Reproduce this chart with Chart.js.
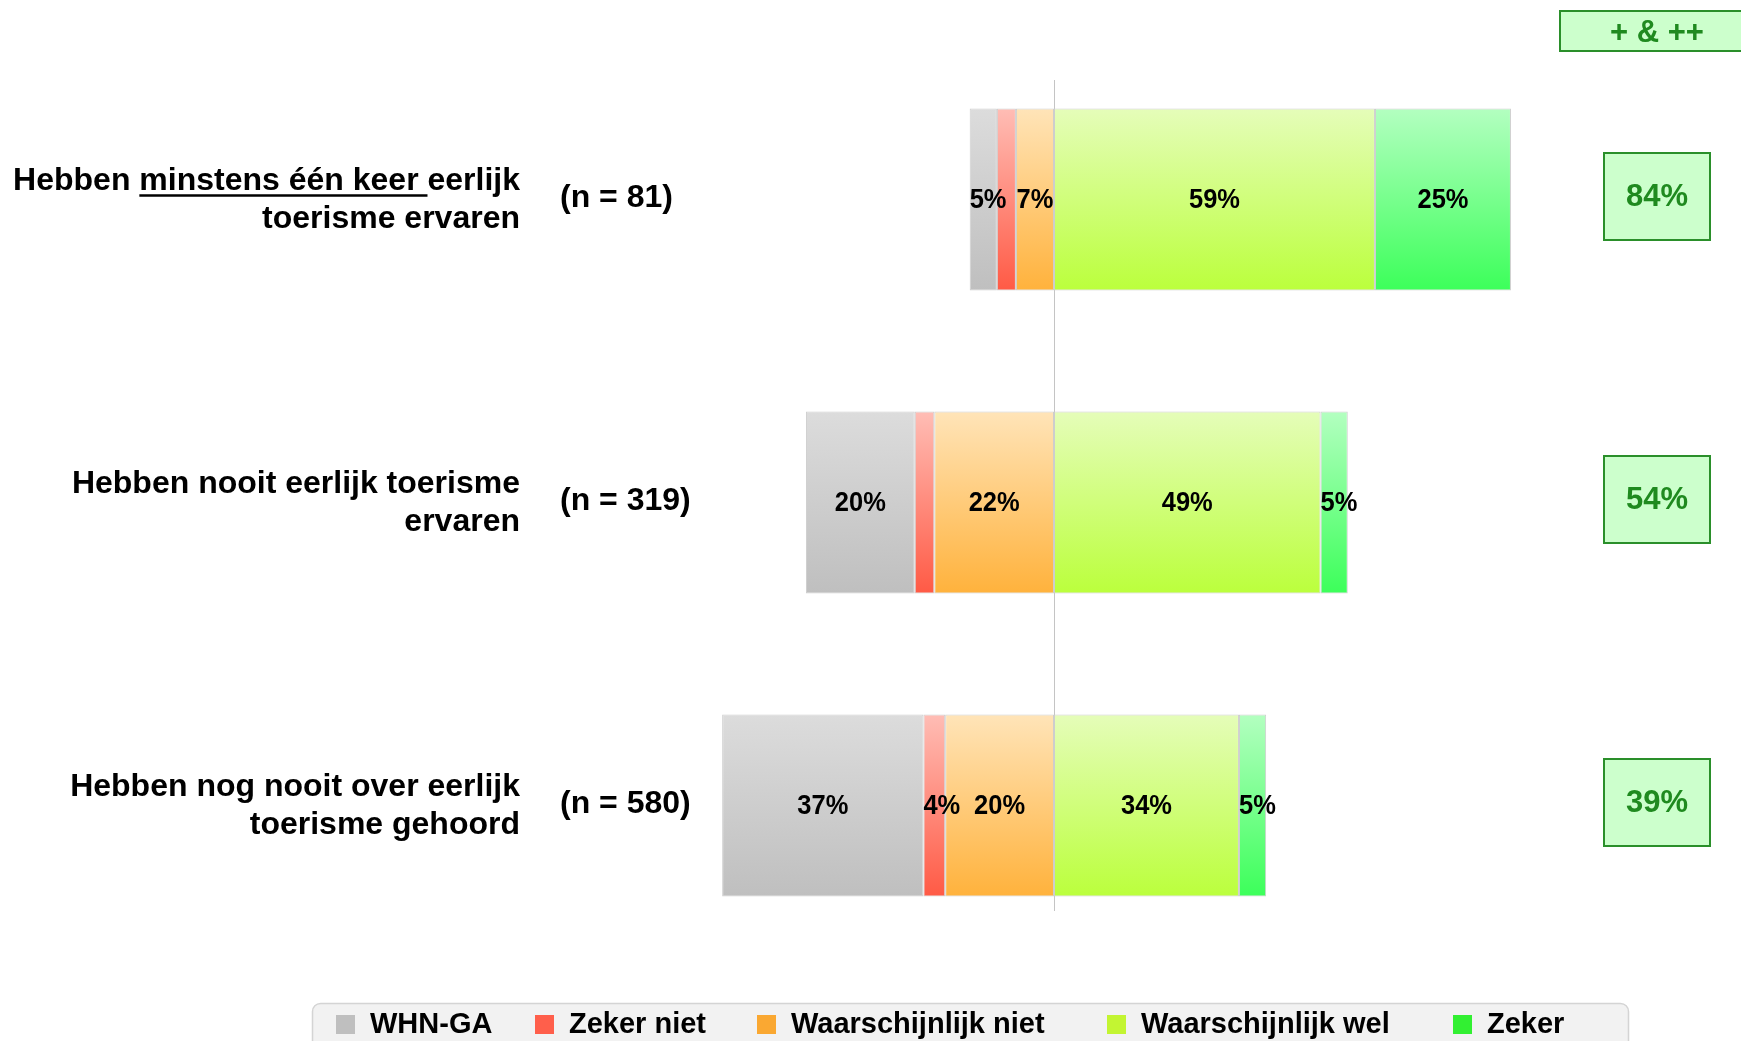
<!DOCTYPE html>
<html>
<head>
<meta charset="utf-8">
<script src="https://cdn.jsdelivr.net/npm/chart.js@4.4.1/dist/chart.umd.min.js"></script>
<style>
  html, body { margin: 0; padding: 0; background: #ffffff; overflow: hidden; }
  canvas { display: block; }
</style>
</head>
<body>
<canvas id="chart" width="1741" height="1041"></canvas>
<script>
// Survey groups (multi-line labels) and their sample sizes
const categories = [
  ["Hebben minstens één keer eerlijk", "toerisme ervaren"],
  ["Hebben nooit eerlijk toerisme", "ervaren"],
  ["Hebben nog nooit over eerlijk", "toerisme gehoord"]
];
const underlinedPhrase = "minstens één keer ";
const sampleSizes = [81, 319, 580];

// Answer shares in percent
const whnGa = [5, 20, 37];
const zekerNiet = [3.5, 3.6, 4];
const waarschijnlijkNiet = [7, 22, 20];
const waarschijnlijkWel = [59, 49, 34];
const zeker = [25, 5, 5];

// Share of "waarschijnlijk wel" + "zeker" per group
const topTwoTitle = "+ & ++";
const topTwoBox = [84, 54, 39];

const legendOrder = ["WHN-GA", "Zeker niet", "Waarschijnlijk niet", "Waarschijnlijk wel", "Zeker"];

const FONT = '"Liberation Sans", Arial, Helvetica, sans-serif';

function gradientFor(ctx, stops) {
  const chart = ctx.chart;
  const area = chart.chartArea;
  if (!area || ctx.dataIndex === undefined || !chart.scales.y) return stops[1];
  const yc = chart.scales.y.getPixelForValue(ctx.dataIndex);
  const half = (area.bottom - area.top) / categories.length * 0.6 / 2;
  const g = chart.ctx.createLinearGradient(0, yc - half, 0, yc + half);
  g.addColorStop(0, stops[0]);
  g.addColorStop(1, stops[1]);
  return g;
}

function series(label, values, sign, stops, legendColor) {
  return {
    label: label,
    data: values.map(v => sign * v),
    values: values,
    legendColor: legendColor,
    backgroundColor: ctx => gradientFor(ctx, stops),
    borderColor: '#cdcdcd',
    borderWidth: 1,
    borderSkipped: false,
    stack: 'answers'
  };
}

// Negative side stacks outward from zero in dataset order
const datasets = [
  series("Waarschijnlijk niet", waarschijnlijkNiet, -1, ['#ffe4b8', '#ffb23c'], '#faa832'),
  series("Zeker niet", zekerNiet, -1, ['#ffbdb5', '#ff5a45'], '#ff5f4b'),
  series("WHN-GA", whnGa, -1, ['#dcdcdc', '#bfbfbf'], '#bfbfbf'),
  series("Waarschijnlijk wel", waarschijnlijkWel, 1, ['#e5fdb9', '#bbff3c'], '#c3f532'),
  series("Zeker", zeker, 1, ['#b3ffc0', '#3cff5a'], '#32f032')
];

function drawText(ctx, str, x, y, font, color, align, sx) {
  ctx.save();
  ctx.font = font;
  ctx.fillStyle = color;
  ctx.textBaseline = 'middle';
  ctx.textAlign = align;
  ctx.translate(x, y);
  ctx.scale(sx || 1, 1);
  ctx.fillText(str, 0, 0);
  ctx.restore();
}

const decorations = {
  id: 'decorations',
  beforeDatasetsDraw(chart) {
    const ctx = chart.ctx;
    const x0 = Math.round(chart.scales.x.getPixelForValue(0)) + 0.5;
    ctx.save();
    ctx.strokeStyle = '#c4c4c4';
    ctx.lineWidth = 1;
    ctx.beginPath();
    ctx.moveTo(x0, 80);
    ctx.lineTo(x0, 911);
    ctx.stroke();
    ctx.restore();
  },
  afterDatasetsDraw(chart) {
    const ctx = chart.ctx;
    const ys = chart.scales.y;

    // value labels inside the segments
    const labelFont = 'bold 28px ' + FONT;
    const labelScale = 0.91;
    chart.getSortedVisibleDatasetMetas().forEach(meta => {
      const ds = chart.data.datasets[meta.index];
      meta.data.forEach((el, i) => {
        const v = ds.values[i];
        if (v < 4) return;
        const txt = Math.round(v) + '%';
        const left = Math.min(el.x, el.base);
        const right = Math.max(el.x, el.base);
        ctx.font = labelFont;
        const w = ctx.measureText(txt).width * labelScale;
        if (w > right - left) {
          drawText(ctx, txt, left, el.y + 1, labelFont, '#000', 'left', labelScale);
        } else {
          drawText(ctx, txt, (left + right) / 2, el.y + 1, labelFont, '#000', 'center', labelScale);
        }
      });
    });

    // group labels, right aligned, with the underlined phrase
    const catFont = 'bold 32px ' + FONT;
    const rightEdge = 520;
    chart.data.labels.forEach((lines, i) => {
      const yc = ys.getPixelForValue(i);
      lines.forEach((line, j) => {
        const y = yc + (j === 0 ? -18 : 20);
        drawText(ctx, line, rightEdge, y, catFont, '#000', 'right');
        const k = line.indexOf(underlinedPhrase);
        if (k >= 0) {
          ctx.save();
          ctx.font = catFont;
          const start = rightEdge - ctx.measureText(line).width;
          const ux0 = start + ctx.measureText(line.slice(0, k)).width;
          const ux1 = ux0 + ctx.measureText(underlinedPhrase).width;
          ctx.strokeStyle = '#000';
          ctx.lineWidth = 2.5;
          ctx.beginPath();
          ctx.moveTo(ux0, y + 14);
          ctx.lineTo(ux1, y + 14);
          ctx.stroke();
          ctx.restore();
        }
      });
      drawText(ctx, '(n = ' + sampleSizes[i] + ')', 560, yc - 1, catFont, '#000', 'left');
    });

    // top-two boxes on the right
    const green = '#1f8a1f';
    ctx.save();
    ctx.fillStyle = '#ccffcc';
    ctx.strokeStyle = '#2a8f2a';
    ctx.lineWidth = 2;
    ctx.fillRect(1560, 11, 200, 40);
    ctx.strokeRect(1560, 11, 200, 40);
    ctx.restore();
    drawText(ctx, topTwoTitle, 1657, 33, 'bold 31px ' + FONT, green, 'center');

    topTwoBox.forEach((v, i) => {
      const yc = ys.getPixelForValue(i) - 3;
      ctx.save();
      ctx.fillStyle = '#ccffcc';
      ctx.strokeStyle = '#2a8f2a';
      ctx.lineWidth = 2;
      ctx.fillRect(1604, yc - 43.5, 106, 87);
      ctx.strokeRect(1604, yc - 43.5, 106, 87);
      ctx.restore();
      drawText(ctx, v + '%', 1657, yc + 1, 'bold 31px ' + FONT, green, 'center');
    });

    // legend
    ctx.save();
    ctx.fillStyle = '#f2f2f2';
    ctx.strokeStyle = '#d4d4d4';
    ctx.lineWidth = 1.5;
    ctx.beginPath();
    ctx.roundRect(312.5, 1003.5, 1316, 60, 8);
    ctx.fill();
    ctx.stroke();
    ctx.restore();
    const itemX = [336, 535, 757, 1107, 1453];
    legendOrder.forEach((name, i) => {
      const ds = chart.data.datasets.find(d => d.label === name);
      ctx.save();
      ctx.fillStyle = ds.legendColor;
      ctx.fillRect(itemX[i], 1015, 19, 19);
      ctx.restore();
      drawText(ctx, name, itemX[i] + 34, 1025, 'bold 29px ' + FONT, '#000', 'left');
    });
  }
};

new Chart(document.getElementById('chart'), {
  type: 'bar',
  data: { labels: categories, datasets: datasets },
  options: {
    indexAxis: 'y',
    responsive: false,
    animation: false,
    layout: { padding: { left: 510, right: 143, top: 48, bottom: 84 } },
    datasets: { bar: { categoryPercentage: 1, barPercentage: 0.6 } },
    scales: {
      x: { stacked: true, min: -100, max: 100, display: false },
      y: { stacked: true, display: false }
    },
    plugins: { legend: { display: false }, tooltip: { enabled: false } }
  },
  plugins: [decorations]
});
</script>
</body>
</html>
